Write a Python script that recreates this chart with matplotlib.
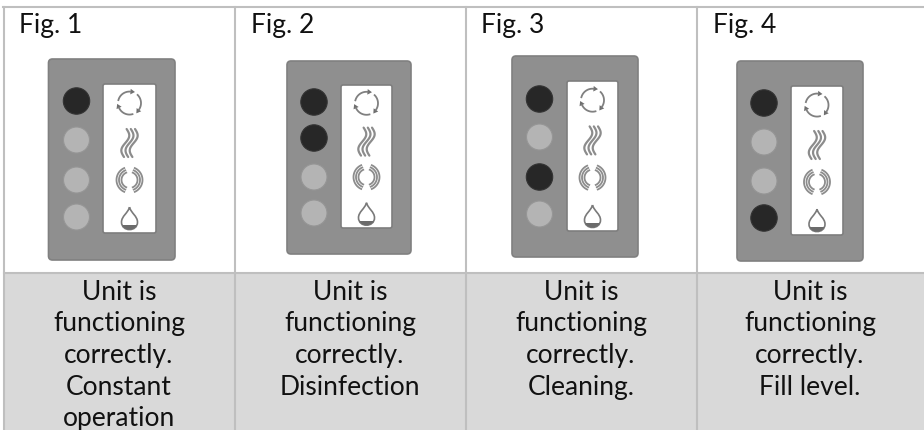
import numpy as np
import matplotlib
matplotlib.use("Agg")
import matplotlib.pyplot as plt
from matplotlib.patches import Circle, FancyBboxPatch, PathPatch, Polygon, Rectangle
from matplotlib.path import Path

# table contents
fig_labels = ["Fig. 1", "Fig. 2", "Fig. 3", "Fig. 4"]
captions = [
    ["Unit is", "functioning", "correctly.", "Constant", "operation"],
    ["Unit is", "functioning", "correctly.", "Disinfection"],
    ["Unit is", "functioning", "correctly.", "Cleaning."],
    ["Unit is", "functioning", "correctly.", "Fill level."],
]
# which of the four lamps is on in each figure
lamps_on = [[1, 0, 0, 0], [1, 1, 0, 0], [1, 0, 1, 0], [1, 0, 0, 1]]

# layout, in pixels of the 924x430 picture
col_lines = [4, 235, 466, 697]
col_right = 924
table_top = 7
row_line = 273
label_x = [19, 251, 481, 713]
panels = [(48.5, 59, 175, 260), (287, 61, 411, 254), (512, 56, 638, 257), (737, 61, 863, 261)]
windows = [(103, 84, 156, 233), (341, 85, 392, 228), (567, 81, 618, 231), (791, 86, 843, 235)]
lamp_x = [76.5, 314, 539.5, 764]
lamp_y = [[101, 140, 180, 217], [102, 138, 177, 213], [99, 137, 177, 214], [103, 142, 181, 218]]

LINE = "#bfbfbf"
CELL = "#d9d9d9"
PANEL = "#8f8f8f"
PANEL_EDGE = "#808080"
LAMP_ON = "#272727"
LAMP_OFF = "#b4b4b4"
ICON = "#8c8c8c"
TEXT = "#111111"

plt.rcParams["font.family"] = ["Lato", "DejaVu Sans"]

fig = plt.figure(figsize=(9.24, 4.30), dpi=100)
ax = fig.add_axes([0, 0, 1, 1])
ax.set_xlim(0, 924)
ax.set_ylim(430, 0)
ax.axis("off")


def draw_swirl(cx, cy):
    # three arcs running clockwise, an arrow head at the end of each
    r = 11.5
    for end in [-85, 35, 155]:
        a = np.radians(np.linspace(end - 80, end, 20))
        ax.plot(cx + r * np.cos(a), cy + r * np.sin(a), color="#808080", lw=1.3)
        e = np.radians(end)
        out = np.array([np.cos(e), np.sin(e)])
        along = np.array([-np.sin(e), np.cos(e)])
        c = np.array([cx, cy]) + r * out
        ax.add_patch(Polygon([c + along * 4.5, c + out * 2.8, c - out * 2.8], color="#6f6f6f", lw=0))


def draw_waves(cx, cy):
    # heat lines, one S each
    t = np.linspace(-1, 1, 40)
    for dx in [-4.2, 0, 4.2]:
        x = cx + dx - 3.2 * np.sin(t * 3.2) - 1.5 * t
        y = cy + 14 * t
        ax.plot(x, y, color=ICON, lw=1.6, solid_capstyle="round")


def draw_rings(cx, cy):
    for r in [8, 10.5, 13]:
        a = np.radians(np.linspace(-66, 66, 30))
        ax.plot(cx + r * np.cos(a), cy + r * np.sin(a), color=ICON, lw=1.3)
        ax.plot(cx - r * np.cos(a), cy + r * np.sin(a), color=ICON, lw=1.3)


def draw_drop(cx, cy):
    top = cy - 11
    codes = [Path.MOVETO, Path.CURVE4, Path.CURVE4, Path.CURVE4, Path.CURVE4, Path.CURVE4, Path.CURVE4]
    verts = [(cx, top), (cx + 1.5, top + 6), (cx + 8, top + 9), (cx + 8, top + 15),
             (cx + 8, top + 25), (cx - 8, top + 25), (cx - 8, top + 15)]
    verts2 = [(cx - 8, top + 15), (cx - 8, top + 9), (cx - 1.5, top + 6), (cx, top)]
    path = Path(verts + verts2[1:], codes + [Path.CURVE4] * 3)
    ax.add_patch(PathPatch(path, facecolor="white", edgecolor="#7a7a7a", lw=1.2))
    # water level in the bottom of the drop
    level = Rectangle((cx - 9, top + 18), 18, 6, color="#6b6b6b", lw=0)
    ax.add_patch(level)
    level.set_clip_path(PathPatch(path, transform=ax.transData))


# grey caption row
ax.add_patch(Rectangle((col_lines[0], row_line), col_right - col_lines[0], 430 - row_line, color=CELL, lw=0))

# grid lines
ax.plot([col_lines[0] - 1, col_right], [table_top, table_top], color=LINE, lw=1.5)
ax.plot([col_lines[0], col_right], [row_line, row_line], color=LINE, lw=1.5)
for x in col_lines:
    ax.plot([x, x], [table_top, 430], color=LINE, lw=1.5)

for i in range(len(fig_labels)):
    ax.text(label_x[i], 33, fig_labels[i], fontsize=19, color=TEXT, ha="left", va="baseline")

    l, t, r, b = panels[i]
    ax.add_patch(FancyBboxPatch((l + 3, t + 3), r - l - 6, b - t - 6, boxstyle="round,pad=3,rounding_size=4",
                                facecolor=PANEL, edgecolor=PANEL_EDGE, lw=1.2))
    wl, wt, wr, wb = windows[i]
    ax.add_patch(FancyBboxPatch((wl + 2, wt + 2), wr - wl - 4, wb - wt - 4, boxstyle="round,pad=2,rounding_size=2",
                                facecolor="white", edgecolor="#7e7e7e", lw=1.2))

    for j in range(4):
        if lamps_on[i][j]:
            ax.add_patch(Circle((lamp_x[i], lamp_y[i][j]), 13.2, facecolor=LAMP_ON, edgecolor="#333333", lw=0.8))
        else:
            ax.add_patch(Circle((lamp_x[i], lamp_y[i][j]), 13, facecolor=LAMP_OFF, edgecolor="#969696", lw=0.8))

    # icons sit in the window centre, spaced by the window height
    cx = (wl + wr) / 2
    h = wb - wt
    draw_swirl(cx, wt + 0.128 * h)
    draw_waves(cx, wt + 0.396 * h)
    draw_rings(cx, wt + 0.644 * h)
    draw_drop(cx, wt + 0.90 * h)

    # caption, one line at a time
    mid = (col_lines[i] + (col_lines[i + 1] if i < 3 else col_right)) / 2
    for n, line in enumerate(captions[i]):
        ax.text(mid - 0.5, 299.5 + 31.7 * n, line, fontsize=19, color=TEXT, ha="center", va="baseline")

fig.savefig("out.png", dpi=100)
